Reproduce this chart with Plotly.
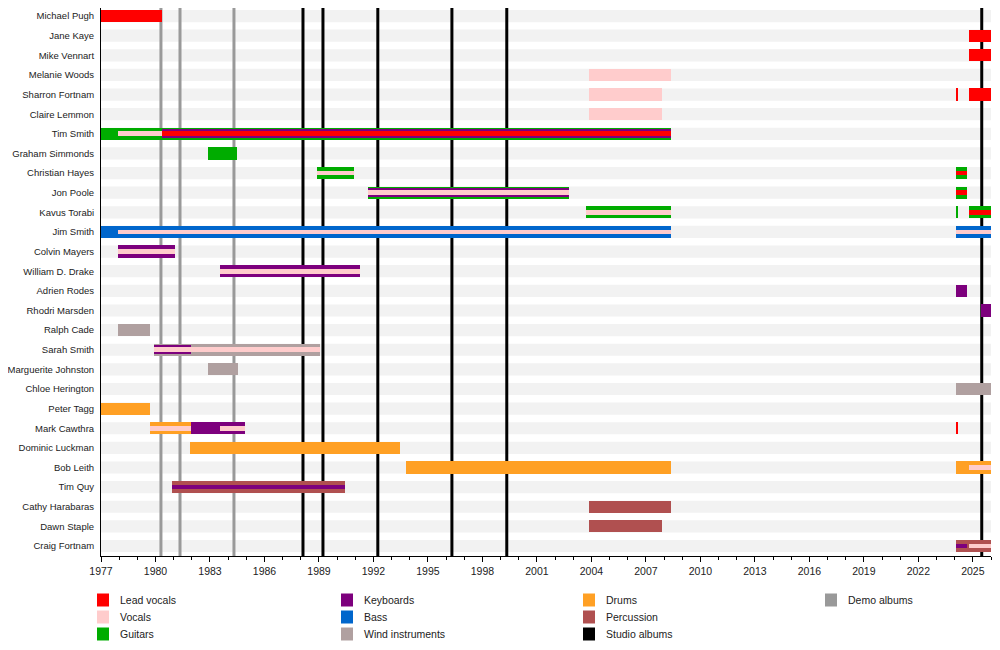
import plotly.graph_objects as go

# ---------------- data ----------------
members = [
    "Michael Pugh", "Jane Kaye", "Mike Vennart", "Melanie Woods", "Sharron Fortnam",
    "Claire Lemmon", "Tim Smith", "Graham Simmonds", "Christian Hayes", "Jon Poole",
    "Kavus Torabi", "Jim Smith", "Colvin Mayers", "William D. Drake", "Adrien Rodes",
    "Rhodri Marsden", "Ralph Cade", "Sarah Smith", "Marguerite Johnston", "Chloe Herington",
    "Peter Tagg", "Mark Cawthra", "Dominic Luckman", "Bob Leith", "Tim Quy",
    "Cathy Harabaras", "Dawn Staple", "Craig Fortnam",
]

roles = ["Lead vocals", "Vocals", "Guitars", "Keyboards", "Bass",
         "Wind instruments", "Drums", "Percussion"]
role_colors = ["#ff0000", "#ffcccc", "#00ac00", "#7d007d", "#0066cc",
               "#b0a0a0", "#ffa024", "#b05050"]

# segments: member, role, start, end, layer (0 outer, 1 middle, 2 centre)
seg_member = [
    "Michael Pugh", "Jane Kaye", "Mike Vennart", "Melanie Woods",
    "Sharron Fortnam", "Sharron Fortnam", "Sharron Fortnam", "Claire Lemmon",
    "Tim Smith", "Tim Smith", "Tim Smith", "Tim Smith",
    "Graham Simmonds",
    "Christian Hayes", "Christian Hayes", "Christian Hayes", "Christian Hayes",
    "Jon Poole", "Jon Poole", "Jon Poole", "Jon Poole", "Jon Poole",
    "Kavus Torabi", "Kavus Torabi", "Kavus Torabi", "Kavus Torabi", "Kavus Torabi",
    "Jim Smith", "Jim Smith", "Jim Smith", "Jim Smith",
    "Colvin Mayers", "Colvin Mayers",
    "William D. Drake", "William D. Drake",
    "Adrien Rodes", "Rhodri Marsden", "Ralph Cade",
    "Sarah Smith", "Sarah Smith", "Sarah Smith",
    "Marguerite Johnston", "Chloe Herington", "Peter Tagg",
    "Mark Cawthra", "Mark Cawthra", "Mark Cawthra", "Mark Cawthra", "Mark Cawthra",
    "Dominic Luckman", "Bob Leith", "Bob Leith", "Bob Leith",
    "Tim Quy", "Tim Quy",
    "Cathy Harabaras", "Dawn Staple",
    "Craig Fortnam", "Craig Fortnam", "Craig Fortnam",
]
seg_role = [
    "Lead vocals", "Lead vocals", "Lead vocals", "Vocals",
    "Vocals", "Lead vocals", "Lead vocals", "Vocals",
    "Guitars", "Vocals", "Keyboards", "Lead vocals",
    "Guitars",
    "Guitars", "Vocals", "Guitars", "Lead vocals",
    "Guitars", "Keyboards", "Vocals", "Guitars", "Lead vocals",
    "Guitars", "Vocals", "Guitars", "Guitars", "Lead vocals",
    "Bass", "Vocals", "Bass", "Vocals",
    "Keyboards", "Vocals",
    "Keyboards", "Vocals",
    "Keyboards", "Keyboards", "Wind instruments",
    "Wind instruments", "Keyboards", "Vocals",
    "Wind instruments", "Wind instruments", "Drums",
    "Drums", "Vocals", "Keyboards", "Vocals", "Lead vocals",
    "Drums", "Drums", "Drums", "Vocals",
    "Percussion", "Keyboards",
    "Percussion", "Percussion",
    "Percussion", "Keyboards", "Vocals",
]
seg_start = [
    1977.0, 2024.77, 2024.77, 2003.86,
    2003.86, 2024.08, 2024.77, 2003.86,
    1977.0, 1977.95, 1980.36, 1980.36,
    1982.89,
    1988.89, 1988.89, 2024.1, 2024.1,
    1991.69, 1991.69, 1991.69, 2024.1, 2024.1,
    2003.69, 2003.69, 2024.08, 2024.77, 2024.77,
    1977.0, 1977.95, 2024.1, 2024.1,
    1977.95, 1977.95,
    1983.55, 1983.55,
    2024.1, 2025.43, 1977.95,
    1979.92, 1979.92, 1979.92,
    1982.89, 2024.1, 1977.0,
    1979.7, 1979.7, 1981.95, 1983.55, 2024.08,
    1981.9, 1993.79, 2024.1, 2024.77,
    1980.91, 1980.91,
    2003.86, 2003.86,
    2024.1, 2024.1, 2024.77,
]
seg_end = [
    1980.36, 2026.0, 2026.0, 2008.37,
    2007.87, 2024.14, 2026.0, 2007.87,
    2008.37, 1980.36, 2008.37, 2008.37,
    1984.48,
    1990.92, 1990.92, 2024.66, 2024.66,
    2002.76, 2002.76, 2002.76, 2024.66, 2024.66,
    2008.37, 2008.37, 2024.14, 2026.0, 2026.0,
    2008.37, 2008.37, 2026.0, 2026.0,
    1981.07, 1981.07,
    1991.25, 1991.25,
    2024.66, 2026.0, 1979.7,
    1989.05, 1981.95, 1989.05,
    1984.54, 2026.0, 1979.7,
    1981.95, 1981.95, 1984.93, 1984.93, 2024.14,
    1993.46, 2008.37, 2026.0, 2026.0,
    1990.43, 1990.43,
    2008.37, 2007.87,
    2026.0, 2024.66, 2026.0,
]
seg_layer = [
    0, 0, 0, 0,
    0, 0, 0, 0,
    0, 2, 1, 2,
    0,
    0, 2, 0, 2,
    0, 1, 2, 0, 2,
    0, 2, 0, 0, 2,
    0, 2, 0, 2,
    0, 2,
    0, 2,
    0, 0, 0,
    0, 1, 2,
    0, 0, 0,
    0, 2, 0, 2, 0,
    0, 0, 0, 2,
    0, 2,
    0, 0,
    0, 2, 2,
]

demo_albums = [1980.30, 1981.35, 1984.32]
studio_albums = [1988.12, 1989.22, 1992.24, 1996.32, 1999.34, 2025.49]

x_first, x_last = 1977, 2026
tick_years = list(range(1977, 2026, 3))

# ---------------- styling ----------------
layer_width = {0: 0.62, 1: 0.44, 2: 0.24}
band_color = "#f2f2f2"
FONT = "Liberation Sans, Arial, sans-serif"
OFF = 8                      # page body margin
W, H = 984, 634
ML, MR, MT, MB = 93, 1, 0, 86
PW, PH = W - ML - MR, H - MT - MB
n = len(members)
y_lo, y_hi = -0.41, n - 0.49

def px_x(px):
    return (px - OFF - ML) / PW

def px_y(py):
    return (H - MB - (py - OFF)) / PH

idx = {m: i for i, m in enumerate(members)}
color_of = dict(zip(roles, role_colors))

fig = go.Figure()

shapes = []
# background bands
for i in range(n):
    shapes.append(dict(type="rect", xref="x", yref="y", x0=x_first, x1=x_last,
                       y0=i - 0.31, y1=i + 0.31, fillcolor=band_color,
                       line=dict(width=0), layer="below"))
# album lines
for yr in demo_albums:
    shapes.append(dict(type="line", xref="x", yref="y", x0=yr, x1=yr, y0=y_lo, y1=y_hi,
                       line=dict(color="#999999", width=3), layer="below"))
for yr in studio_albums:
    shapes.append(dict(type="line", xref="x", yref="y", x0=yr, x1=yr, y0=y_lo, y1=y_hi,
                       line=dict(color="#000000", width=3), layer="below"))

# bars, layer by layer
for layer in (0, 1, 2):
    for role in roles:
        ys, bases, lens = [], [], []
        for m, r, s, e, l in zip(seg_member, seg_role, seg_start, seg_end, seg_layer):
            if r == role and l == layer:
                ys.append(idx[m])
                bases.append(s)
                lens.append(e - s)
        if not ys:
            continue
        fig.add_trace(go.Bar(
            y=ys, x=lens, base=bases, orientation="h",
            width=layer_width[layer], marker=dict(color=color_of[role], line=dict(width=0)),
            opacity=1, showlegend=False, name=role, hoverinfo="skip"))

# legend drawn manually (4 columns)
legend_cols = [
    ["Lead vocals", "Vocals", "Guitars"],
    ["Keyboards", "Bass", "Wind instruments"],
    ["Drums", "Percussion", "Studio albums"],
    ["Demo albums"],
]
legend_colors = dict(color_of)
legend_colors["Studio albums"] = "#000000"
legend_colors["Demo albums"] = "#999999"
col_x = [97, 341, 583, 825]
row_y = [600, 617, 634]
annotations = []
for cx, col in zip(col_x, legend_cols):
    for ry, name in zip(row_y, col):
        shapes.append(dict(type="rect", xref="paper", yref="paper",
                           x0=px_x(cx), x1=px_x(cx + 12), y0=px_y(ry + 6.5), y1=px_y(ry - 6.5),
                           fillcolor=legend_colors[name], line=dict(width=0)))
        annotations.append(dict(xref="paper", yref="paper", x=px_x(cx + 21), y=px_y(ry),
                                text=name, showarrow=False, xanchor="left", yanchor="middle",
                                font=dict(family=FONT, size=10.5, color="#222222")))

fig.update_layout(
    width=W, height=H,
    margin=dict(l=ML, r=MR, t=MT, b=MB, autoexpand=False),
    paper_bgcolor="white", plot_bgcolor="white",
    barmode="overlay", bargap=0,
    shapes=shapes, annotations=annotations,
    font=dict(family=FONT, size=10.5, color="#222222"),
    xaxis=dict(range=[x_first, x_last], tickvals=tick_years, ticks="outside",
               ticklen=5, tickcolor="#000000", showline=True, linecolor="#000000",
               linewidth=1, showgrid=False, zeroline=False, automargin=False,
               tickfont=dict(family=FONT, size=10.5, color="#222222"),
               minor=dict(dtick=1, tick0=1977, ticks="outside", ticklen=3,
                          tickcolor="#000000", showgrid=False)),
    yaxis=dict(range=[y_hi, y_lo], tickvals=list(range(n)),
               ticktext=members, ticks="", showline=True, linecolor="#000000",
               linewidth=1, showgrid=False, zeroline=False, ticklabelstandoff=4,
               automargin=False,
               tickfont=dict(family=FONT, size=9.5, color="#222222")),
)

fig.write_html("out.html")
